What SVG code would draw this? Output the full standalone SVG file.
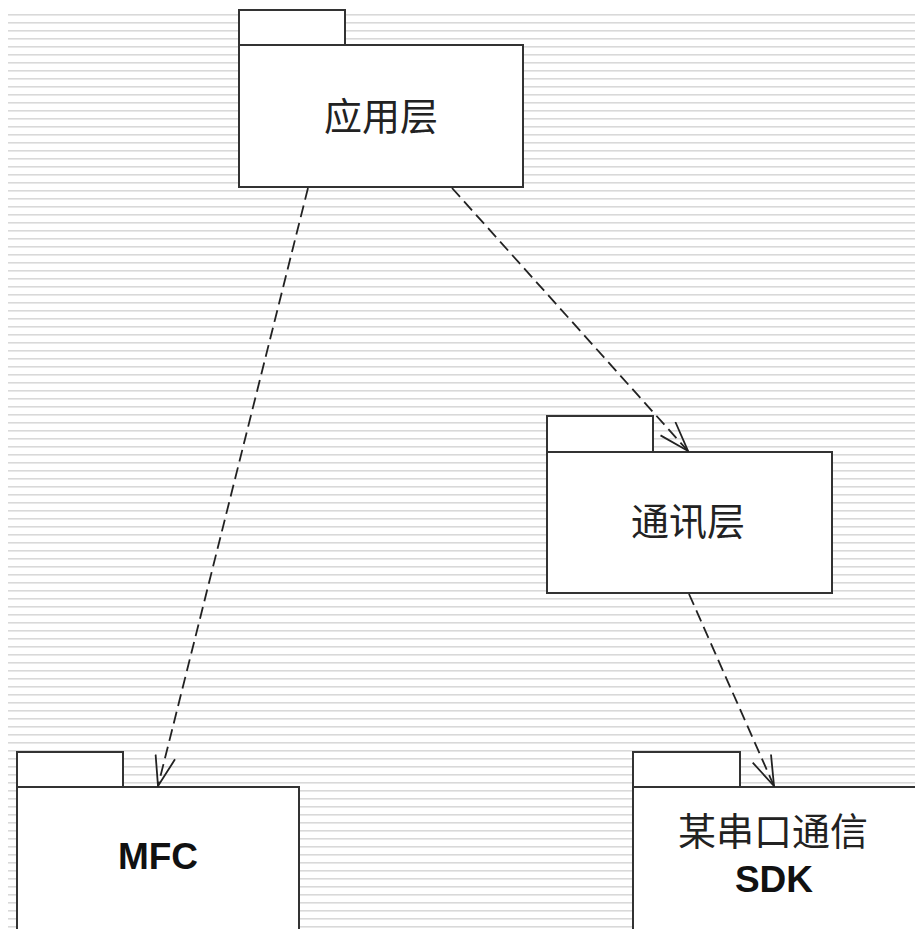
<svg xmlns="http://www.w3.org/2000/svg" width="915" height="929" viewBox="0 0 915 929">
<defs>
<pattern id="bg" x="0" y="14" width="8" height="8" patternUnits="userSpaceOnUse">
<rect x="0" y="0" width="8" height="1.6" fill="#d9d9d9"/>
</pattern>
<marker id="arr" viewBox="0 0 32 22" refX="31" refY="11" markerWidth="32" markerHeight="22" markerUnits="userSpaceOnUse" orient="auto">
<path d="M1,1 L31,11 L1,21" fill="none" stroke="#222" stroke-width="1.8"/>
</marker>
<style>
.box{fill:#fff;stroke:#333;stroke-width:2}
.cjk{font-family:"Noto Sans CJK SC","Noto Sans",sans-serif;font-size:38px;fill:#222;text-anchor:middle}
.lat{font-family:"Liberation Sans",Arial,sans-serif;font-weight:bold;font-size:37px;fill:#111;text-anchor:middle}
.dep{fill:none;stroke:#222;stroke-width:1.8;stroke-dasharray:12 6;marker-end:url(#arr)}
</style>
</defs>
<rect width="915" height="929" fill="#fff"/>
<rect x="8" y="14" width="907" height="915" fill="url(#bg)"/>
<g id="app">
<rect class="box" x="239" y="10" width="106" height="35"/>
<rect class="box" x="239" y="45" width="284" height="142"/>
<text class="cjk" x="381" y="130">应用层</text>
</g>
<g id="comm">
<rect class="box" x="547" y="416" width="106" height="36"/>
<rect class="box" x="547" y="452" width="285" height="141"/>
<text class="cjk" x="688" y="535">通讯层</text>
</g>
<g id="mfc">
<rect class="box" x="17" y="752" width="106" height="35"/>
<rect class="box" x="17" y="787" width="282" height="150"/>
<text class="lat" x="158" y="869">MFC</text>
</g>
<g id="sdk">
<rect class="box" x="633" y="752" width="107" height="35"/>
<rect class="box" x="633" y="787" width="290" height="150"/>
<text class="cjk" x="773" y="845">某串口通信</text>
<text class="lat" x="774" y="892">SDK</text>
</g>
<g id="connectors">
<line class="dep" x1="308" y1="188" x2="158" y2="786"/>
<line class="dep" x1="452" y1="188" x2="688" y2="451"/>
<line class="dep" x1="689" y1="594" x2="774" y2="786"/>
</g>
</svg>
